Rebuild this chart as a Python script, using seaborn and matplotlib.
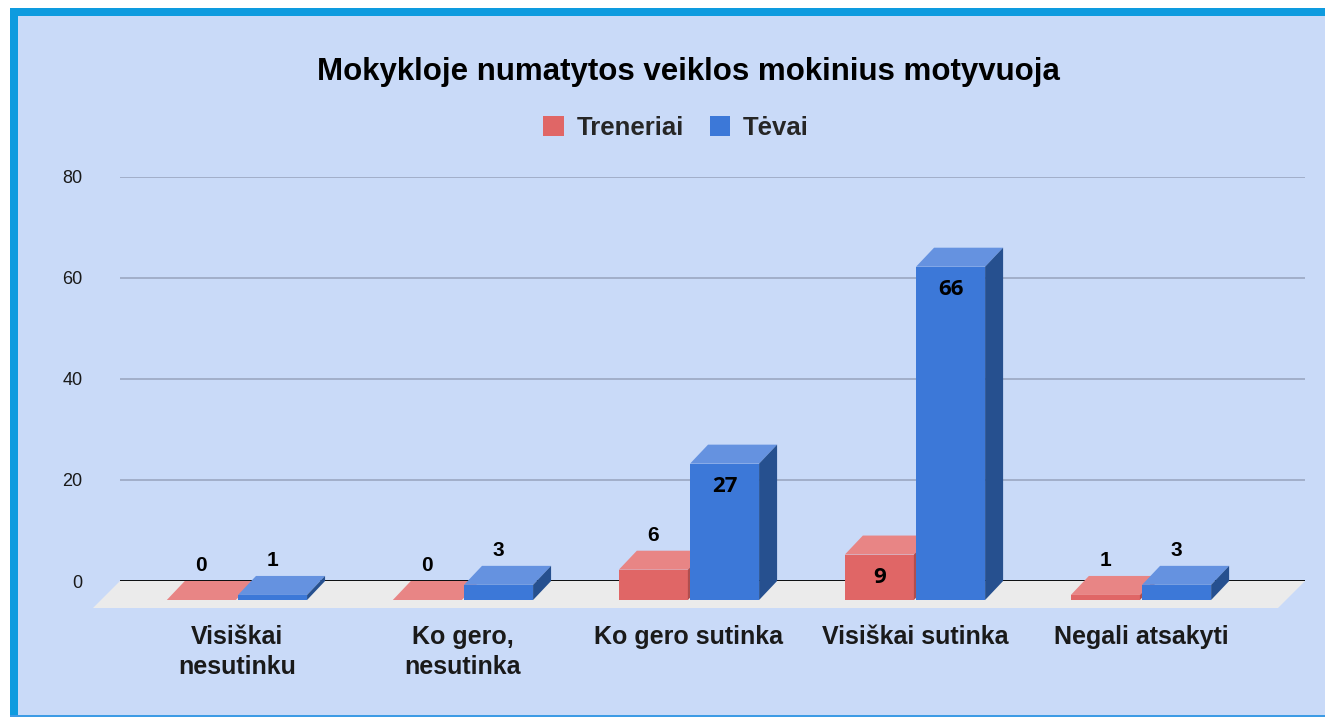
import pandas as pd
import matplotlib
matplotlib.use("Agg")
import matplotlib.pyplot as plt
import matplotlib.transforms as mtransforms
from matplotlib.patches import Polygon, Rectangle
import seaborn as sns

# chart data
categories = ["Visiškai\nnesutinku", "Ko gero,\nnesutinka", "Ko gero sutinka",
              "Visiškai sutinka", "Negali atsakyti"]
series = ["Treneriai", "Tėvai"]
treneriai = [0, 0, 6, 9, 1]
tevai = [1, 3, 27, 66, 3]
y_ticks = [0, 20, 40, 60, 80]
title = "Mokykloje numatytos veiklos mokinius motyvuoja"

W, H, DPI = 1325, 717, 100
BG = "#C9DAF8"
BORDER = "#0E9BDF"
front_col = {"Treneriai": "#E06666", "Tėvai": "#3C78D8"}
top_col = {"Treneriai": "#E88585", "Tėvai": "#6592E0"}
side_col = {"Treneriai": "#B04E4E", "Tėvai": "#26508F"}

df = pd.DataFrame({
    "cat": categories * 2,
    "group": [series[0]] * len(categories) + [series[1]] * len(categories),
    "value": treneriai + tevai,
})

sns.set_theme(style="white")
plt.rcParams["font.family"] = ["Liberation Sans", "DejaVu Sans"]

fig = plt.figure(figsize=(W / DPI, H / DPI), dpi=DPI, facecolor=BG)

# page frame: white margin + blue band
for (x, y, w, h, c) in [(0, 0, 10, H, "white"), (0, H - 8, W, 8, "white"),
                        (10, 0, 8, H - 8, BORDER), (10, H - 16, W - 10, 8, BORDER),
                        (10, 0, W - 10, 2, "#3D9BE5")]:
    fig.add_artist(Rectangle((x / W, y / H), w / W, h / H, transform=fig.transFigure,
                             color=c, lw=0, zorder=0))

ax = fig.add_axes([120 / W, 1 - 581 / H, 1185 / W, 404 / H])
ax.set_facecolor("none")

sns.barplot(data=df, x="cat", y="value", hue="group", hue_order=series,
            palette=front_col, saturation=1, width=0.63, gap=0.03, ax=ax)

ax.set_xlim(-0.597, 4.646)
ax.set_ylim(0, 80)

# pixel -> data conversions for the fake 3D depth
bb = ax.get_window_extent()
px_x = bb.width / (ax.get_xlim()[1] - ax.get_xlim()[0])
px_y = bb.height / (ax.get_ylim()[1] - ax.get_ylim()[0])
dx, dy = -18 / px_x, -19 / px_y
fdx, fdy = -27 / px_x, -27 / px_y

# floor
x0l, x1l = ax.get_xlim()
ax.add_patch(Polygon([(x0l, 0), (x1l, 0), (x1l + fdx, fdy), (x0l + fdx, fdy)],
                     closed=True, color="#EBEBEB", lw=0, zorder=1, clip_on=False))
ax.axhline(0, color="black", lw=1.3, zorder=2)

bars = []
for grp, cont in zip(series, ax.containers):
    for p in cont.patches:
        bars.append((p.get_x(), grp, p))
bars.sort(key=lambda t: t[0])

for i, (x0, grp, p) in enumerate(bars):
    w, h = p.get_width(), p.get_height()
    z = 3 + i * 0.01
    p.set_xy((x0 + dx, dy))
    p.set_clip_on(False)
    p.set_zorder(z)
    p.set_linewidth(0)
    ax.add_patch(Polygon([(x0 + dx, h + dy), (x0 + w + dx, h + dy), (x0 + w, h), (x0, h)],
                         closed=True, color=top_col[grp], lw=0, zorder=z, clip_on=False))
    ax.add_patch(Polygon([(x0 + w + dx, dy), (x0 + w + dx, h + dy), (x0 + w, h), (x0 + w, 0)],
                         closed=True, color=side_col[grp], lw=0, zorder=z, clip_on=False))
    cx = x0 + w / 2 + dx
    if h * px_y > 40:
        ax.annotate(f"{h:.0f}", (cx, h + dy), xytext=(0, -9), textcoords="offset points",
                    ha="center", va="top", fontsize=16, fontweight="bold",
                    family=["Open Sans", "DejaVu Sans"], color="black", zorder=10)
    else:
        ax.annotate(f"{h:.0f}", (cx, h), xytext=(0, 7), textcoords="offset points",
                    ha="center", va="baseline", fontsize=15, fontweight="bold",
                    color="black", zorder=10)

# axes styling
sns.despine(ax=ax, left=True, bottom=True)
ax.set_yticks(y_ticks)
ax.yaxis.grid(True, color="#97A3BC", lw=1.1)
ax.set_axisbelow(True)
ax.tick_params(axis="y", length=0, pad=27, labelsize=13, labelcolor="#1A1A1A")
ax.tick_params(axis="x", length=0, pad=32)
ax.set_xticks(range(len(categories)))
ax.set_xticklabels(categories, fontsize=18, fontweight="bold", color="#1A1A1A",
                   linespacing=1.28)
shift = mtransforms.ScaledTranslation(-0.18, 0, fig.dpi_scale_trans)
for lab in ax.get_xticklabels():
    lab.set_transform(lab.get_transform() + shift)
ax.set_xlabel("")
ax.set_ylabel("")

# legend above the plot
handles, labels = ax.get_legend_handles_labels()
ax.get_legend().remove()
leg = fig.legend(handles, labels, loc="center", bbox_to_anchor=(676 / W, 1 - 128 / H),
                 ncol=2, frameon=False, prop={"size": 18.5, "weight": "bold"},
                 handlelength=0.8, handleheight=0.8, handletextpad=0.5,
                 columnspacing=1.0)
for hd in leg.legend_handles:
    hd.set_edgecolor("none")

fig.text(688 / W, 1 - 80 / H, title, ha="center", va="baseline",
         fontsize=22.5, fontweight="bold", color="black")

fig.savefig("out.png", dpi=DPI, facecolor=BG)
